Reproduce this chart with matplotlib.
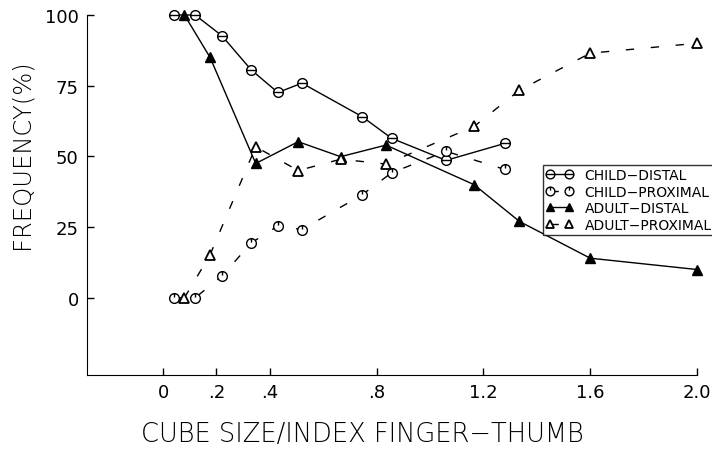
import matplotlib
matplotlib.use("Agg")
import matplotlib.pyplot as plt
from matplotlib.path import Path
import numpy as np

plt.rcParams["font.family"] = ["DejaVu Sans"]

# data
child_x = [0.04, 0.12, 0.22, 0.33, 0.43, 0.52, 0.745, 0.856, 1.06, 1.28]
child_distal = [100, 100, 92.7, 80.6, 72.6, 75.9, 64.1, 56.4, 48.6, 54.6]
child_proximal = [0, 0, 7.6, 19.4, 25.4, 24.1, 36.4, 44.2, 51.8, 45.4]

adult_x = [0.08, 0.176, 0.347, 0.506, 0.665, 0.835, 1.165, 1.335, 1.6, 2.0]
adult_distal = [100, 85, 47.5, 55.2, 49.9, 54, 40, 27, 14, 10]
adult_proximal = [0, 15.2, 53.4, 45, 49, 47.3, 60.6, 73.4, 86.5, 90]

xticks = [0, 0.2, 0.4, 0.8, 1.2, 1.6, 2.0]
xticklabels = ["0", ".2", ".4", ".8", "1.2", "1.6", "2.0"]
yticks = [0, 25, 50, 75, 100]

# circle markers with a bar inside, like the original plotter symbols
MOVETO, LINETO = Path.MOVETO, Path.LINETO
circ_h = Path.make_compound_path(Path.unit_circle(),
                                 Path([[-1, 0], [1, 0]], [MOVETO, LINETO]))
circ_v = Path.make_compound_path(Path.unit_circle(),
                                 Path([[0, 1], [0, 0.2]], [MOVETO, LINETO]))

fig = plt.figure(figsize=(7.12, 4.6), dpi=100)
ax = fig.add_axes([87 / 712, 84 / 460, 610 / 712, 360 / 460])

kw = dict(color="black", lw=1.0, markersize=7, clip_on=False)
ax.plot(child_x, child_distal, marker=circ_h, mfc="white", mec="black",
        mew=1.0, ls="-", label="CHILD\u2212DISTAL", **kw)
ax.plot(child_x, child_proximal, marker=circ_v, mfc="white", mec="black",
        mew=1.0, ls=(0, (6, 12)), label="CHILD\u2212PROXIMAL", **kw)
ax.plot(adult_x, adult_distal, marker="^", mfc="black", mec="black",
        ls="-", label="ADULT\u2212DISTAL", **kw)
ax.plot(adult_x, adult_proximal, marker="^", mfc="white", mec="black",
        mew=1.3, ls=(0, (6, 12)), label="ADULT\u2212PROXIMAL", **kw)

ax.set_xlim(-0.285, 2.0)
ax.set_ylim(-27.3, 100)
ax.set_xticks(xticks)
ax.set_xticklabels(xticklabels)
ax.set_yticks(yticks)
ax.tick_params(direction="in", length=5, width=1, labelsize=13, pad=6)
ax.spines["top"].set_visible(False)
ax.spines["right"].set_visible(False)

fig.text(0.03, (460 - 154) / 460, "FREQUENCY(%)", rotation=90,
         ha="center", va="center", fontsize=17.5, fontweight="light")
fig.text(362 / 712, 1 - 435 / 460, "CUBE SIZE/INDEX FINGER\u2212THUMB",
         ha="center", va="center", fontsize=18.5, fontweight="light")

leg = fig.legend(loc="upper left", bbox_to_anchor=(543 / 712, 1 - 166 / 460),
                 numpoints=2, handlelength=2.0, handletextpad=0.8,
                 fontsize=10, frameon=True, fancybox=False,
                 borderpad=0.2, labelspacing=0.2, borderaxespad=0,
                 markerscale=0.9)
leg.get_frame().set_edgecolor("black")
leg.get_frame().set_linewidth(1.0)

plt.savefig("out.png", dpi=100)
